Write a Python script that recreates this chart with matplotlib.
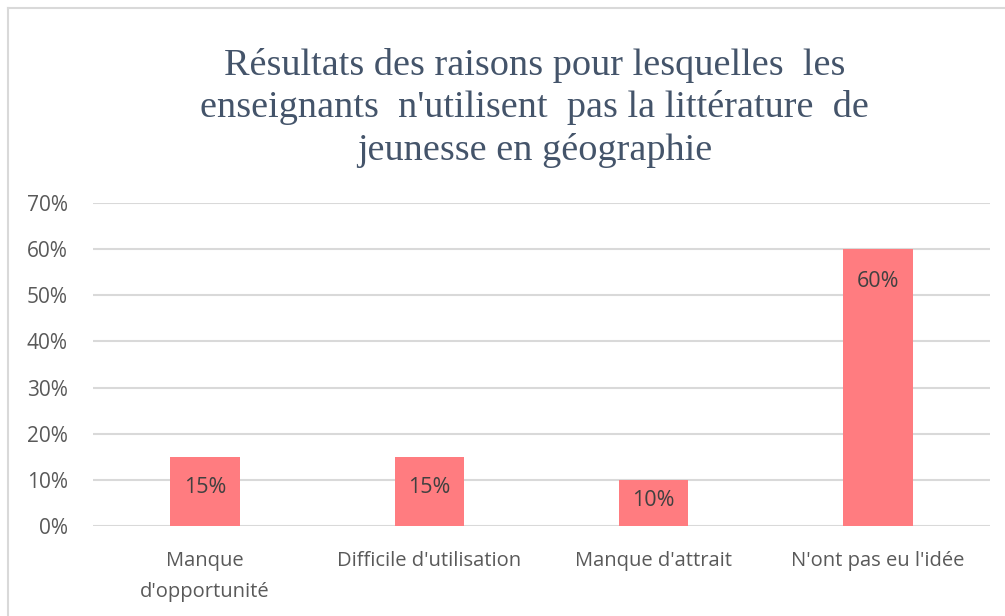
import matplotlib.pyplot as plt
from matplotlib.lines import Line2D


TITLE = "Résultats des raisons pour lesquelles  les\nenseignants  n'utilisent  pas la littérature  de\njeunesse en géographie"

categories = [
    "Manque\nd'opportunité",
    "Difficile d'utilisation",
    "Manque d'attrait",
    "N'ont pas eu l'idée"
]
percentages = [0.15, 0.15, 0.10, 0.60]
value_labels = ["15%", "15%", "10%", "60%"]
y_ticks = [0.0, 0.1, 0.2, 0.3, 0.4, 0.5, 0.6, 0.7]
y_tick_labels = ["0%", "10%", "20%", "30%", "40%", "50%", "60%", "70%"]

BAR_COLOR = "#FF7C80"
GRID_COLOR = "#D9D9D9"
TEXT_COLOR = "#595959"
LABEL_COLOR = "#404040"
TITLE_COLOR = "#44546A"


def make_chart():

    fig = plt.figure(figsize=(10.05, 6.16), dpi=100)
    ax = fig.add_axes([0.0925, 0.146, 0.8925, 0.5245])

    x_positions = list(range(len(categories)))

    ax.bar(x_positions, percentages, width=0.31, color=BAR_COLOR, zorder=3)

    # labels sit near the top of each bar, or in the middle when the bar is short
    for x, value, label in zip(x_positions, percentages, value_labels):
        label_y = max(value - 0.07, value * 0.55)
        ax.text(
            x, label_y, label,
            ha="center",
            va="center",
            fontsize=15.5,
            color=LABEL_COLOR,
            family="Open Sans",
            zorder=4
        )

    ax.set_xlim(-0.5, len(categories) - 0.5)
    ax.set_ylim(0, 0.7)
    ax.set_yticks(y_ticks)
    ax.set_yticklabels(y_tick_labels, family="Open Sans", fontsize=15, color=TEXT_COLOR)
    ax.set_xticks(x_positions)
    ax.set_xticklabels(categories, family="Open Sans", fontsize=14.5, color=TEXT_COLOR, linespacing=1.7)

    ax.tick_params(axis="y", length=0, pad=18)
    ax.tick_params(axis="x", length=0, pad=18)

    ax.grid(axis="y", color=GRID_COLOR, linewidth=1.5, zorder=0)
    for spine in ax.spines.values():
        spine.set_visible(False)

    fig.text(
        0.532, 0.825, TITLE,
        ha="center", va="center",
        multialignment="center",
        fontsize=27.5,
        family="Liberation Serif",
        color=TITLE_COLOR,
        linespacing=1.27
    )

    # light border around the chart area
    fig.add_artist(Line2D([0.008, 1.0], [0.987, 0.987], color=GRID_COLOR, linewidth=1.5))
    fig.add_artist(Line2D([0.008, 0.008], [0.0, 0.987], color=GRID_COLOR, linewidth=1.5))

    fig.savefig("out.png", dpi=100)


def main():
    make_chart()


if __name__ == "__main__":
    main()
